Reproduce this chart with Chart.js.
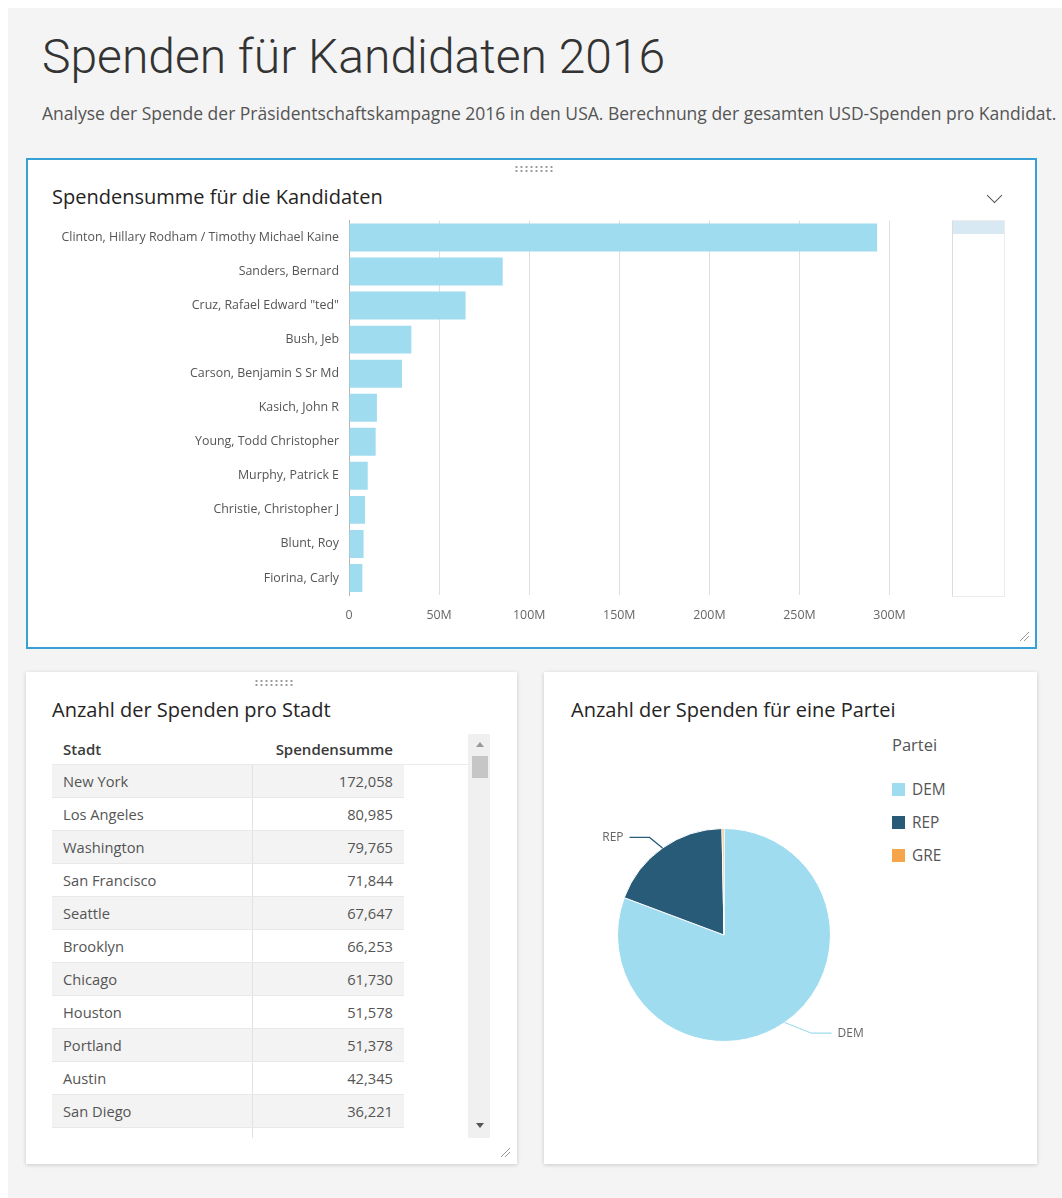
<!DOCTYPE html>
<html lang="de">
<head>
<meta charset="utf-8">
<title>Spenden für Kandidaten 2016</title>
<script src="https://cdn.jsdelivr.net/npm/chart.js@4"></script>
<style>
  body { margin: 0; background: #fff; font-family: 'Open Sans', sans-serif; }
  .page { position: relative; width: 1062px; height: 1198px; overflow: hidden; }
  .bg { position: absolute; left: 8px; top: 8px; right: 0; bottom: 0; background: #f4f4f4; }
  .abs { position: absolute; }
  h1 { position: absolute; left: 42px; top: 29px; margin: 0; font-family: Roboto, sans-serif;
       font-weight: 300; font-size: 48px; line-height: 56px; color: #333; white-space: nowrap; }
  .sub { left: 42px; top: 101px; font-size: 17.5px; line-height: 24px; color: #555; white-space: nowrap; }
  .panel { position: absolute; background: #fff; box-shadow: 0 1px 4px rgba(0,0,0,0.18); }
  .panel.active { border: 2px solid #38a0d6; box-shadow: none; }
  .ptitle { position: absolute; font-size: 20px; line-height: 28px; color: #252423; white-space: nowrap; }
  .handle { position: absolute; width: 40px; height: 8px;
            background: radial-gradient(circle, #9a9a9a 0.9px, transparent 1.3px) 0 0 / 5px 4px; }
  .chev { position: absolute; width: 10px; height: 10px; border-right: 1.5px solid #555;
          border-bottom: 1.5px solid #555; transform: rotate(45deg); }
  table { border-collapse: collapse; font-size: 14.7px; color: #555; }
  th { font-weight: 600; color: #3a3a3a; height: 30px; padding: 0 11px; font-size: 15px;
       border-bottom: 1px solid #eaeaea; }
  td { height: 32px; padding: 0 11px; border-bottom: 1px solid #e8e8e8; }
  tr.odd td { background: #f3f3f3; }
  .legend { font-size: 15.4px; color: #555; }
  .legend .item { position: absolute; left: 0; white-space: nowrap; line-height: 20px; }
  .legend .sw { display: inline-block; width: 13px; height: 13px; vertical-align: -1px; margin-right: 7px; }
</style>
</head>
<body>
<div class="page">
  <div class="bg"></div>
  <h1>Spenden für Kandidaten 2016</h1>
  <div class="abs sub">Analyse der Spende der Präsidentschaftskampagne 2016 in den USA. Berechnung der gesamten USD-Spenden pro Kandidat.</div>

  <!-- bar chart panel -->
  <div class="panel active" style="left:26px; top:158px; width:1007px; height:487px;"></div>
  <div class="handle" style="left:514px; top:165px;"></div>
  <div class="ptitle" style="left:52px; top:183px;">Spendensumme für die Kandidaten</div>
  <div class="chev" style="left:989px; top:190px;"></div>
  <div class="abs" style="left:40px; top:203px; width:900px; height:427px;"><canvas id="barChart"></canvas></div>
  <div class="abs" style="left:952px; top:220px; width:51px; height:375px; border:1px solid #ececec; border-left-color:#dcdcdc;"></div>
  <div class="abs" style="left:953px; top:221px; width:51px; height:13px; background:#d9e9f3;"></div>
  <svg class="abs" style="left:1018px; top:630px;" width="12" height="12"><path d="M2 11 L11 2 M6 11 L11 6" stroke="#999" stroke-width="1"/></svg>

  <!-- table panel -->
  <div class="panel" style="left:26px; top:672px; width:491px; height:492px;"></div>
  <div class="handle" style="left:254px; top:679px;"></div>
  <div class="ptitle" style="left:52px; top:696px;">Anzahl der Spenden pro Stadt</div>
  <div class="abs" style="left:52px; top:734px; width:416px; height:404px; overflow:hidden;">
    <table id="cityTable">
      <colgroup><col style="width:200px"><col style="width:152px"><col style="width:64px"></colgroup>
    </table>
  </div>
  <div class="abs" style="left:468px; top:734px; width:22px; height:404px; background:#f0f0f0;"></div>
  <div class="abs" style="left:472px; top:756px; width:16px; height:22px; background:#c6c6c6;"></div>
  <div class="abs" style="left:476px; top:742px; width:0; height:0; border-left:4px solid transparent; border-right:4px solid transparent; border-bottom:5px solid #999;"></div>
  <div class="abs" style="left:476px; top:1123px; width:0; height:0; border-left:4px solid transparent; border-right:4px solid transparent; border-top:5px solid #555;"></div>
  <svg class="abs" style="left:499px; top:1146px;" width="12" height="12"><path d="M2 11 L11 2 M6 11 L11 6" stroke="#999" stroke-width="1"/></svg>

  <!-- pie panel -->
  <div class="panel" style="left:544px; top:672px; width:493px; height:492px;"></div>
  <div class="ptitle" style="left:571px; top:696px;">Anzahl der Spenden für eine Partei</div>
  <div class="abs" style="left:564px; top:775px; width:320px; height:320px;"><canvas id="pieChart"></canvas></div>
  <div class="abs legend" id="pieLegend" style="left:892px; top:734px; width:140px; height:140px;"></div>
</div>

<script>
// Spendensumme pro Kandidat (Mio. USD)
const candidateNames = [
    'Clinton, Hillary Rodham / Timothy Michael Kaine',
    'Sanders, Bernard',
    'Cruz, Rafael Edward "ted"',
    'Bush, Jeb',
    'Carson, Benjamin S Sr Md',
    'Kasich, John R',
    'Young, Todd Christopher',
    'Murphy, Patrick E',
    'Christie, Christopher J',
    'Blunt, Roy',
    'Fiorina, Carly'
];
const candidateTotalsM = [293.1, 85.3, 64.7, 34.6, 29.4, 15.5, 14.8, 10.4, 8.9, 8.1, 7.4];

// Anzahl der Spenden pro Stadt
const cityNames = ['New York', 'Los Angeles', 'Washington', 'San Francisco', 'Seattle', 'Brooklyn',
    'Chicago', 'Houston', 'Portland', 'Austin', 'San Diego', 'Philadelphia'];
const cityCounts = [172058, 80985, 79765, 71844, 67647, 66253, 61730, 51578, 51378, 42345, 36221, 35120];

// Anteil der Spenden je Partei (%)
const partyLabels = ['DEM', 'REP', 'GRE'];
const partyShares = [80.7, 19.0, 0.3];

const colors = {
    bar: '#a0dcef',
    dem: '#a0dcef',
    rep: '#285b78',
    gre: '#f5a54a',
    grid: '#dedede',
    text: '#666666'
};

Chart.defaults.font.family = "'Open Sans', sans-serif";
Chart.defaults.color = colors.text;
Chart.defaults.animation = false;

// --- bar chart ---
new Chart(document.getElementById('barChart'), {
    type: 'bar',
    data: {
        labels: candidateNames,
        datasets: [{
            data: candidateTotalsM,
            backgroundColor: colors.bar,
            barPercentage: 0.82,
            categoryPercentage: 1.0
        }]
    },
    options: {
        indexAxis: 'y',
        responsive: true,
        maintainAspectRatio: false,
        layout: { padding: { top: 3, right: 0, left: 0, bottom: 0 } },
        plugins: { legend: { display: false }, tooltip: { enabled: false } },
        scales: {
            x: {
                min: 0,
                max: 328,
                border: { display: false },
                grid: {
                    drawTicks: false,
                    color: (ctx) => ctx.tick && ctx.tick.value === 0 ? 'transparent' : colors.grid
                },
                ticks: {
                    stepSize: 50,
                    includeBounds: false,
                    padding: 13,
                    font: { size: 12.4 },
                    callback: (v) => v === 0 ? '0' : `${v}M`
                },
                afterFit: (scale) => { scale.height = 35; }
            },
            y: {
                border: { display: true, color: '#b5b5b5' },
                grid: { display: false, drawTicks: false },
                ticks: { padding: 10, font: { size: 12.4 }, color: '#555' },
                afterFit: (scale) => { scale.width = 309; }
            }
        }
    }
});

// --- table ---
const table = document.getElementById('cityTable');
const head = table.createTHead().insertRow();
head.innerHTML = '<th style="text-align:left">Stadt</th><th style="text-align:right">Spendensumme</th><th></th>';
const body = table.createTBody();
cityNames.forEach((name, i) => {
    const row = body.insertRow();
    if (i % 2 === 0) row.className = 'odd';
    row.innerHTML = `<td style="border-right:1px solid #e2e2e2">${name}</td>` +
        `<td style="text-align:right">${cityCounts[i].toLocaleString('en-US')}</td><td style="background:#fff;border:none"></td>`;
});

// --- pie chart ---
const pieLabelPlugin = {
    id: 'pieLabels',
    afterDatasetsDraw(chart) {
        const {ctx} = chart;
        const meta = chart.getDatasetMeta(0);
        ctx.save();
        ctx.font = "12px 'Open Sans', sans-serif";
        ctx.textBaseline = 'middle';
        meta.data.forEach((arc, i) => {
            if (partyShares[i] < 2) return;
            const p = arc.getProps(['x', 'y', 'startAngle', 'endAngle', 'outerRadius'], true);
            const mid = (p.startAngle + p.endAngle) / 2;
            const cos = Math.cos(mid), sin = Math.sin(mid);
            const x0 = p.x + cos * p.outerRadius, y0 = p.y + sin * p.outerRadius;
            const side = cos >= 0 ? 1 : -1;
            // lower labels sit a bit further out than upper ones
            const reach = sin > 0 ? 20 : 6;
            const x1 = x0 + side * reach + cos * 12, y1 = y0 + sin * 13;
            const x2 = x1 + side * 20;
            ctx.strokeStyle = chart.data.datasets[0].backgroundColor[i];
            ctx.lineWidth = 1.2;
            ctx.beginPath();
            ctx.moveTo(x0, y0);
            ctx.lineTo(x1, y1);
            ctx.lineTo(x2, y1);
            ctx.stroke();
            ctx.fillStyle = '#666';
            ctx.textAlign = side > 0 ? 'left' : 'right';
            ctx.fillText(chart.data.labels[i], x2 + side * 6, y1);
        });
        ctx.restore();
    }
};

new Chart(document.getElementById('pieChart'), {
    type: 'pie',
    data: {
        labels: partyLabels,
        datasets: [{
            data: partyShares,
            backgroundColor: [colors.dem, colors.rep, colors.gre],
            borderColor: '#ffffff',
            borderWidth: 1
        }]
    },
    options: {
        responsive: true,
        maintainAspectRatio: false,
        layout: { padding: 53 },
        plugins: { legend: { display: false }, tooltip: { enabled: false } }
    },
    plugins: [pieLabelPlugin]
});

// legend
const legend = document.getElementById('pieLegend');
legend.innerHTML = '<div class="item" style="top:1px;font-size:16.5px">Partei</div>' +
    partyLabels.map((label, i) =>
        `<div class="item" style="top:${46 + i * 33}px"><span class="sw" style="background:${[colors.dem, colors.rep, colors.gre][i]}"></span>${label}</div>`
    ).join('');
</script>
</body>
</html>
